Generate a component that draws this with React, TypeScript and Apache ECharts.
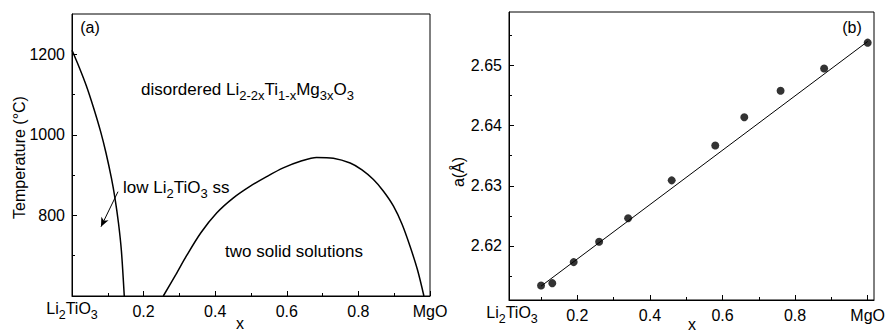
import React, { useEffect, useRef } from "react";
import * as echarts from "echarts";

const FONT = "'Liberation Sans', Arial, Helvetica, sans-serif";

// ---- Panel (a): phase diagram, composition x vs temperature (°C) ----
// Li2TiO3-side boundary of the disordered solid solution
const boundaryX = [0, 0.02, 0.04, 0.06, 0.08, 0.095, 0.11, 0.12, 0.13, 0.138, 0.146];
const boundaryT = [1210, 1168, 1122, 1068, 1008, 955, 893, 843, 780, 712, 600];
// miscibility dome of the two solid solutions
const solvusX = [0.255, 0.29, 0.32, 0.36, 0.404, 0.45, 0.497, 0.545, 0.59, 0.64, 0.683, 0.73, 0.777, 0.81, 0.842, 0.87, 0.898, 0.922, 0.944, 0.965, 0.983];
const solvusT = [600, 653, 700, 757, 806, 843, 872, 897, 918, 935, 944, 942, 930, 913, 889, 860, 823, 778, 724, 665, 600];
// pointer toward the narrow low-temperature Li2TiO3 field
const arrowFrom = [0.1285, 859];
const arrowTo = [0.081, 772];

const tempMajor = [800, 1000, 1200];
const tempMinor = [700, 900, 1100];
const compMajorA = [0, 0.2, 0.4, 0.6, 0.8, 1];
const compMinor = [0.1, 0.3, 0.5, 0.7, 0.9];

// ---- Panel (b): lattice parameter a(Å) vs x ----
const latticeX = [0.1, 0.131, 0.19, 0.26, 0.34, 0.46, 0.58, 0.66, 0.76, 0.88, 1.0];
const latticeA = [2.6134, 2.6138, 2.6173, 2.6207, 2.6246, 2.6309, 2.6367, 2.6414, 2.6458, 2.6495, 2.6538];
// straight line joining the end members
const vegardX = [0.1, 1.0];
const vegardA = [2.6133, 2.654];

const aMajor = [2.62, 2.63, 2.64, 2.65];
const aMinor = [2.615, 2.625, 2.635, 2.645, 2.655];
const compMajorB = [0.2, 0.4, 0.6, 0.8, 1];
const compLabelsB = [0.02, 0.2, 0.4, 0.6, 0.8, 1];

// annotation text inside the panels
const noteRich = {
  m: { fontSize: 17, fontFamily: FONT, color: "#000", verticalAlign: "top" },
  s: { fontSize: 13, fontFamily: FONT, color: "#000", verticalAlign: "top", padding: [8, 0, 0, 0] },
};

// tick labels: numbers sit slightly lower than the chemical formula
const tickRich = {
  m: { fontSize: 16, fontFamily: FONT, color: "#000", verticalAlign: "top" },
  d: { fontSize: 16, fontFamily: FONT, color: "#000", verticalAlign: "top", padding: [3, 0, 0, 0] },
  s: { fontSize: 12.5, fontFamily: FONT, color: "#000", verticalAlign: "top", padding: [8, 0, 0, 0] },
};

const LI2TIO3 = "{m|Li}{s|2}{m|TiO}{s|3}";

function compFormatter(v: number) {
  if (v < 0.05) return LI2TIO3;
  if (Math.abs(v - 1) < 1e-6) return "{d|MgO}";
  return "{d|" + v.toFixed(1) + "}";
}

function mainAxis(gridIndex: number, position: string, min: number, max: number, ticks: number[], labels: number[], formatter: any, margin: number) {
  return {
    type: "value",
    gridIndex,
    position,
    min,
    max,
    axisLine: { show: true, onZero: false, lineStyle: { color: "#000", width: 1 } },
    axisTick: { show: true, inside: true, length: 5, customValues: ticks, lineStyle: { color: "#000", width: 1 } },
    axisLabel: {
      show: true,
      customValues: labels,
      color: "#000",
      fontSize: 16,
      fontFamily: FONT,
      margin,
      formatter,
      rich: tickRich,
    },
    splitLine: { show: false },
  };
}

function minorAxis(gridIndex: number, position: string, min: number, max: number, ticks: number[]) {
  return {
    type: "value",
    gridIndex,
    position,
    min,
    max,
    axisLine: { show: false, onZero: false },
    axisTick: { show: true, inside: true, length: 3, customValues: ticks, lineStyle: { color: "#000", width: 1 } },
    axisLabel: { show: false },
    splitLine: { show: false },
  };
}

export default function App() {
  const ref = useRef<HTMLDivElement>(null);

  useEffect(() => {
    if (!ref.current) return;
    const chart = echarts.init(ref.current, null, { renderer: "svg" });

    const bMin = 0.0117;
    const bMax = 1.0174;
    const aMin = 2.611;
    const aMax = 2.6589;

    chart.setOption({
      animation: false,
      backgroundColor: "#fff",
      grid: [
        { left: 72, top: 14, width: 358, height: 282, show: true, borderColor: "#000", borderWidth: 1 },
        { left: 509, top: 12, width: 365, height: 288, show: true, borderColor: "#000", borderWidth: 1 },
      ],
      xAxis: [
        mainAxis(0, "bottom", 0, 1, compMajorA, compMajorA, compFormatter, 4),
        minorAxis(0, "bottom", 0, 1, compMinor),
        mainAxis(1, "bottom", bMin, bMax, compMajorB, compLabelsB, compFormatter, 4),
        minorAxis(1, "bottom", bMin, bMax, compMinor),
      ],
      yAxis: [
        mainAxis(0, "left", 600, 1300, tempMajor, tempMajor, (v: number) => "{m|" + v + "}", 7),
        minorAxis(0, "left", 600, 1300, tempMinor),
        mainAxis(1, "left", aMin, aMax, aMajor, aMajor, (v: number) => "{m|" + v.toFixed(2) + "}", 7),
        minorAxis(1, "left", aMin, aMax, aMinor),
      ],
      series: [
        {
          type: "line",
          xAxisIndex: 0,
          yAxisIndex: 0,
          data: boundaryX.map((x, i) => [x, boundaryT[i]]),
          smooth: 0.3,
          symbol: "none",
          lineStyle: { color: "#000", width: 1.5 },
          markLine: {
            silent: true,
            symbol: ["none", "arrow"],
            symbolSize: [6, 9],
            lineStyle: { color: "#000", width: 1, type: "solid" },
            label: { show: false },
            data: [[{ coord: arrowFrom }, { coord: arrowTo }]],
          },
        },
        {
          type: "line",
          xAxisIndex: 0,
          yAxisIndex: 0,
          data: solvusX.map((x, i) => [x, solvusT[i]]),
          smooth: 0.3,
          symbol: "none",
          lineStyle: { color: "#000", width: 1.5 },
        },
        {
          type: "line",
          xAxisIndex: 2,
          yAxisIndex: 2,
          data: vegardX.map((x, i) => [x, vegardA[i]]),
          symbol: "none",
          lineStyle: { color: "#000", width: 1 },
        },
        {
          type: "scatter",
          xAxisIndex: 2,
          yAxisIndex: 2,
          data: latticeX.map((x, i) => [x, latticeA[i]]),
          symbol: "circle",
          symbolSize: 8,
          itemStyle: { color: "#000" },
        },
      ],
      graphic: [
        { type: "text", x: 90, y: 27, style: { text: "(a)", font: `16px ${FONT}`, fill: "#000", align: "center", verticalAlign: "middle" } },
        { type: "text", x: 852, y: 27, style: { text: "(b)", font: `16px ${FONT}`, fill: "#000", align: "center", verticalAlign: "middle" } },
        {
          type: "text",
          x: 141,
          y: 80.5,
          style: {
            text: "{m|disordered Li}{s|2-2x}{m|Ti}{s|1-x}{m|Mg}{s|3x}{m|O}{s|3}",
            rich: noteRich,
            align: "left",
            verticalAlign: "top",
          },
        },
        {
          type: "text",
          x: 123,
          y: 179,
          style: { text: "{m|low Li}{s|2}{m|TiO}{s|3}{m| ss}", rich: noteRich, align: "left", verticalAlign: "top" },
        },
        {
          type: "text",
          x: 225,
          y: 251,
          style: { text: "two solid solutions", font: `17px ${FONT}`, fill: "#000", align: "left", verticalAlign: "middle" },
        },
        {
          type: "text",
          x: 19,
          y: 157.5,
          rotation: Math.PI / 2,
          style: { text: "Temperature (°C)", font: `16px ${FONT}`, fill: "#000", align: "center", verticalAlign: "middle" },
        },
        {
          type: "text",
          x: 458,
          y: 172,
          rotation: Math.PI / 2,
          style: { text: "a(Å)", font: `16px ${FONT}`, fill: "#000", align: "center", verticalAlign: "middle" },
        },
        { type: "text", x: 240, y: 323, style: { text: "x", font: `16px ${FONT}`, fill: "#000", align: "center", verticalAlign: "middle" } },
        { type: "text", x: 692, y: 324, style: { text: "x", font: `16px ${FONT}`, fill: "#000", align: "center", verticalAlign: "middle" } },
      ],
    });

    return () => chart.dispose();
  }, []);

  return <div ref={ref} style={{ position: "fixed", left: 0, top: 0, width: 893, height: 332 }} />;
}
